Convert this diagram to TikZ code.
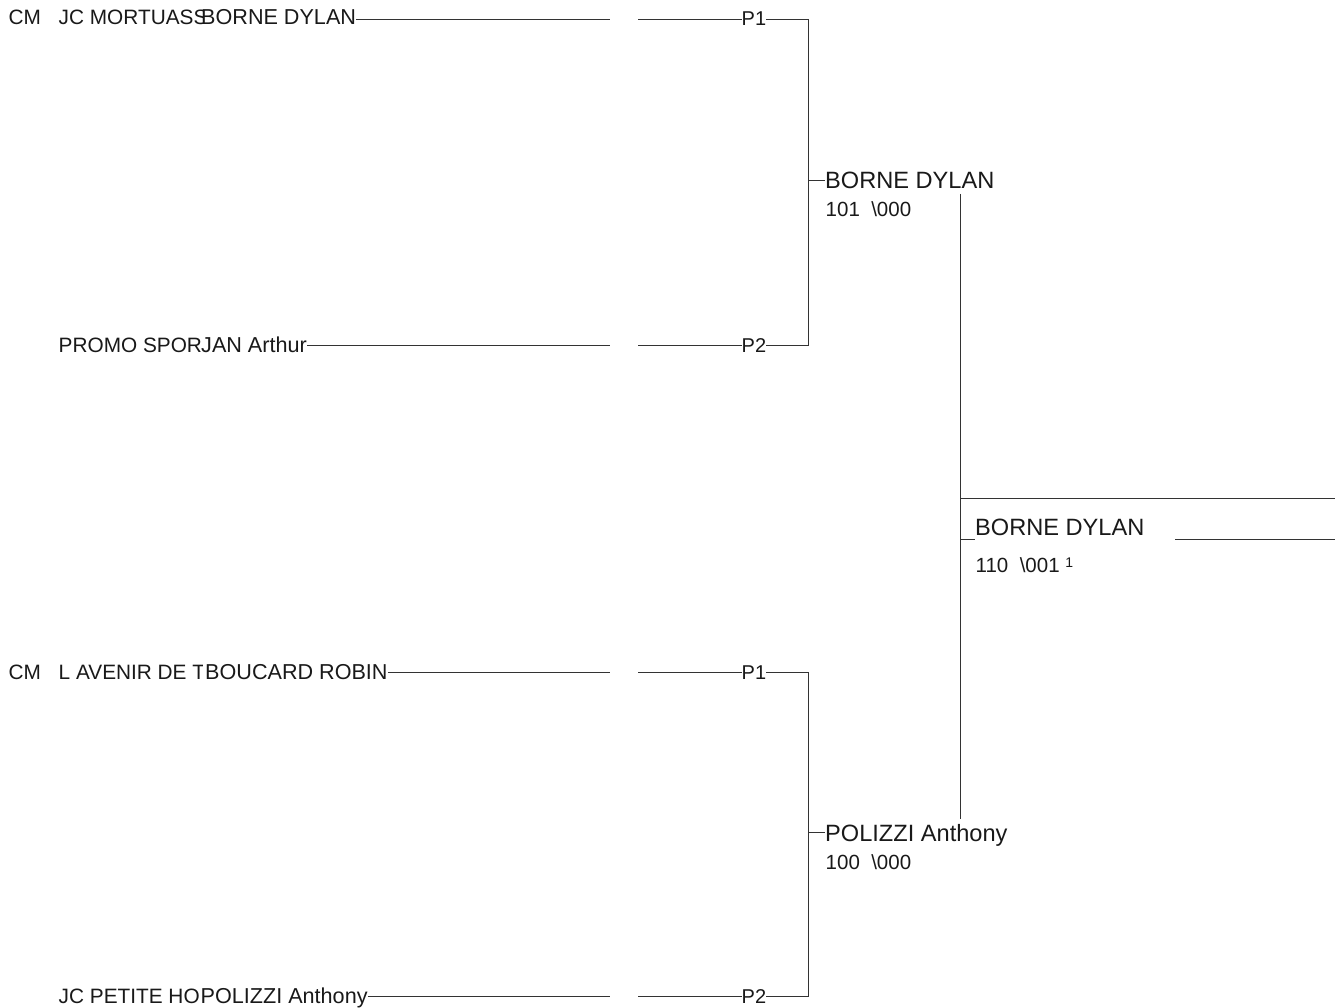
\documentclass[tikz,border=0pt]{standalone}
\usepackage{fontspec}
\setmainfont{Liberation Sans}
\begin{document}
\begin{tikzpicture}[x=1pt,y=-1pt,
  txt/.style={inner sep=0pt, anchor=base west, text=black!90},
  club/.style={txt, font=\fontsize{20.8}{24}\selectfont},
  small/.style={txt, font=\fontsize{21.6}{24}\selectfont},
  big/.style={txt, font=\fontsize{23.6}{28}\selectfont},
  num/.style={txt, font=\fontsize{20.5}{24}\selectfont},
  plab/.style={txt, font=\fontsize{20}{22}\selectfont},
  ln/.style={draw=black!80, line width=0.9pt}]
\useasboundingbox (0,0) rectangle (1335,1008);
\fill[white] (0,0) rectangle (1335,1008);

% ---------- club names (clipped) ----------
\begin{scope}
\clip (0,0) rectangle (202,1008);
\node[club] (c1) at (58.5,25) {JC MORTUASS};
\node[club] (c2) at (58.5,352) {PROMO SPOR};
\node[club] (c3) at (58.5,679) {L AVENIR DE T};
\node[club] (c4) at (58.5,1003) {JC PETITE HO};
\end{scope}
\node[club] (cm1) at (8.5,25) {CM};
\node[club] (cm3) at (8.5,679) {CM};

% ---------- players ----------
\node[small] (n1) at (201,25) {BORNE DYLAN};
\node[small] (n2) at (201,352) {JAN Arthur};
\node[small] (n3) at (205,679) {BOUCARD ROBIN};
\node[small] (n4) at (200.5,1003) {POLIZZI Anthony};

% ---------- P labels ----------
\node[plab] (p1) at (741.5,25.5) {P1};
\node[plab] (p2) at (741.5,352.5) {P2};
\node[plab] (p3) at (741.5,679.5) {P1};
\node[plab] (p4) at (741.5,1003.5) {P2};

% line ends
\coordinate (a1) at (610,19);  \coordinate (b1) at (638,19);
\coordinate (a2) at (610,345); \coordinate (b2) at (638,345);
\coordinate (a3) at (610,672); \coordinate (b3) at (638,672);
\coordinate (a4) at (610,996); \coordinate (b4) at (638,996);
\coordinate (k1) at (808,19);  \coordinate (k2) at (808,345);
\coordinate (k3) at (808,672); \coordinate (k4) at (808,996);

\draw[ln] (n1.east |- a1) -- (a1);
\draw[ln] (n2.east |- a2) -- (a2);
\draw[ln] (n3.east |- a3) -- (a3);
\draw[ln] (n4.east |- a4) -- (a4);
\draw[ln] (b1) -- (p1.west |- b1);
\draw[ln] (b2) -- (p2.west |- b2);
\draw[ln] (b3) -- (p3.west |- b3);
\draw[ln] (b4) -- (p4.west |- b4);
\draw[ln] (p1.east |- k1) -- (k1) -- (k2) -- (p2.east |- k2);
\draw[ln] (p3.east |- k3) -- (k3) -- (k4) -- (p4.east |- k4);

% ---------- semi-final winners ----------
\node[big] (w1) at (825,189) {BORNE DYLAN};
\node[num] (s1) at (825.5,217) {101\ \ \textbackslash 000};
\node[big] (w2) at (825,841) {POLIZZI Anthony};
\node[num] (s2) at (825.5,869) {100\ \ \textbackslash 000};
\draw[ln] (808,180) -- (w1.west |- 0,180);
\draw[ln] (808,832) -- (w2.west |- 0,832);

% ---------- final ----------
\coordinate (v1) at (960,194);
\coordinate (v2) at (960,819);
\draw[ln] (v1) -- (v2);
\coordinate (r1) at (1335,498);
\draw[ln] (960,498) -- (r1);
\node[big] (f) at (975,535) {BORNE DYLAN};
\node[num] (fs) at (975.5,572) {110\ \ \textbackslash 001 \raisebox{5pt}{\fontsize{14}{16}\selectfont 1}};
\coordinate (r2) at (1335,539);
\draw[ln] (960,539) -- (f.west |- 0,539);
\draw[ln] (1175,539) -- (r2);
\end{tikzpicture}
\end{document}
